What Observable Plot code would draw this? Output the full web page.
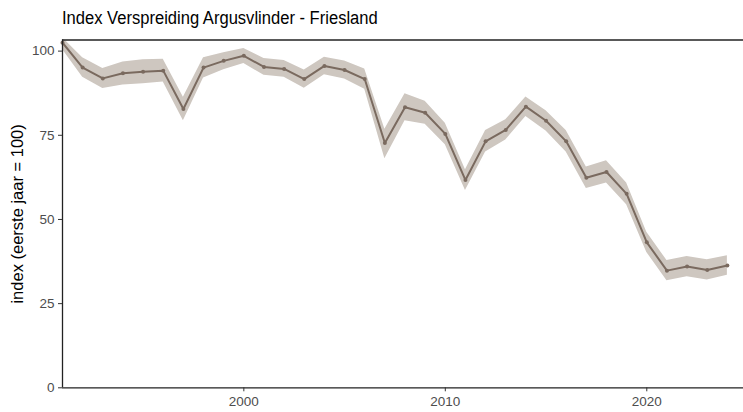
<!DOCTYPE html>
<html>
<head>
<meta charset="utf-8">
<script src="https://cdn.jsdelivr.net/npm/d3@7"></script>
<script src="https://cdn.jsdelivr.net/npm/@observablehq/plot@0.6"></script>
<style>
  body { margin: 0; background: #fff; font-family: "Liberation Sans", Arial, sans-serif; }
  #title { height: 34px; box-sizing: border-box; padding-left: 62px; padding-top: 7px; font-size: 18px; color: #000; line-height: 22px; white-space: nowrap; }
  #title span { display: inline-block; transform: scaleX(0.92); transform-origin: left center; }
  svg { display: block; }
</style>
</head>
<body>
<div id="title"><span>Index Verspreiding Argusvlinder - Friesland</span></div>
<div id="chart"></div>
<script>
const years = [1991,1992,1993,1994,1995,1996,1997,1998,1999,2000,2001,2002,2003,2004,2005,2006,2007,2008,2009,2010,2011,2012,2013,2014,2015,2016,2017,2018,2019,2020,2021,2022,2023,2024];
const index = [102.5,95.1,91.9,93.4,93.9,94.2,82.8,95.1,97.1,98.6,95.3,94.7,91.7,95.6,94.4,91.7,72.7,83.3,81.7,75.4,61.7,73.2,76.6,83.5,79.3,73.2,62.4,64.1,57.6,43.2,34.8,36.0,35.0,36.3];
const lower = [100.5,92.2,88.9,89.9,90.3,90.8,79.3,92.0,94.5,96.3,92.8,92.2,89.0,93.0,91.7,88.7,68.0,79.3,78.3,72.2,58.6,70.0,73.6,80.6,76.3,70.0,59.2,60.8,54.4,40.2,31.8,33.0,32.0,33.4];
const upper = [104.0,98.0,94.8,96.8,97.4,97.6,86.3,98.0,99.5,100.8,97.8,97.2,94.4,98.2,97.1,94.7,76.8,87.3,85.1,78.6,64.8,76.4,79.6,86.4,82.3,76.4,65.6,67.4,60.8,46.2,37.8,39.0,38.0,39.2];
const yTicks = [0,25,50,75,100];
const xTicks = [2000,2010,2020];

const data = years.map((y,i) => ({year: y, index: index[i], lo: lower[i], hi: upper[i]}));

const lineColor = "#7a6a5f";
const bandColor = "#cec7c0";
const yTop = 103.3;

const chart = Plot.plot({
  width: 743,
  height: 378,
  marginLeft: 62,
  marginRight: 0,
  marginTop: 5.5,
  marginBottom: 24.7,
  style: {fontFamily: "'Liberation Sans', Arial, sans-serif", fontSize: "13.5px", color: "#4d4d4d", background: "#fff"},
  x: {domain: [1991, 2024.8], label: null},
  y: {domain: [0, yTop], label: null},
  marks: [
    Plot.areaY(data, {x: "year", y1: "lo", y2: "hi", fill: bandColor, clip: true}),
    Plot.line(data, {x: "year", y: "index", stroke: lineColor, strokeWidth: 2, clip: true}),
    Plot.dot(data, {x: "year", y: "index", fill: lineColor, r: 2}),
    Plot.ruleY([0], {stroke: "#222", strokeWidth: 1.3}),
    Plot.ruleY([yTop], {stroke: "#222", strokeWidth: 1.3}),
    Plot.ruleX([1991], {stroke: "#222", strokeWidth: 1.3}),
    Plot.axisY({ticks: yTicks, tickSize: 4, tickPadding: 4, stroke: "#333", color: "#4d4d4d", fontSize: 13.5, label: null}),
    Plot.axisX({ticks: xTicks, tickFormat: d => String(d), tickSize: 4, tickPadding: 5, stroke: "#333", color: "#4d4d4d", fontSize: 13.5, label: null}),
    Plot.text(["index (eerste jaar = 100)"], {frameAnchor: "left", textAnchor: "middle", dx: -45, rotate: -90, fontSize: 16.5, fill: "#000", text: d => d})
  ]
});
document.getElementById("chart").appendChild(chart);
</script>
</body>
</html>
